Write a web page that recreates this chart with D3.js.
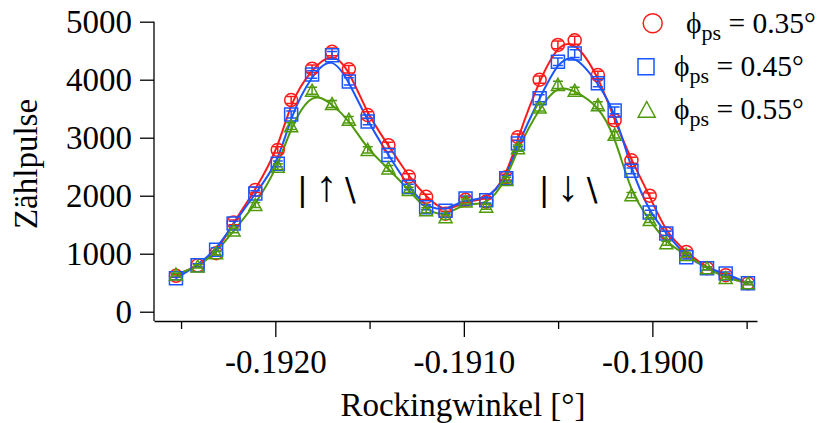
<!DOCTYPE html>
<html>
<head>
<meta charset="utf-8">
<script src="https://cdn.jsdelivr.net/npm/d3@7"></script>
</head>
<body style="margin:0">
<script>
// rocking angle [°] of every measured point
const angles = [
  -0.192527, -0.192412, -0.192314, -0.192221, -0.192106, -0.191987, -0.191916, -0.191805,
  -0.191699, -0.191610, -0.191510, -0.191400, -0.191292, -0.191200, -0.191097, -0.190991,
  -0.190881, -0.190775, -0.190713, -0.190598, -0.190501, -0.190412, -0.190289, -0.190200,
  -0.190111, -0.190014, -0.189926, -0.189820, -0.189710, -0.189611, -0.189493
];

// counts for the three phi_ps settings
const counts035 = [
  620, 800, 1010, 1540, 2100, 2790, 3650, 4190, 4480, 4180, 3390, 2870, 2330, 1980, 1690, 1930,
  1900, 2320, 3010, 4000, 4600, 4680, 4080, 3300, 2610, 2000, 1350, 1030, 750, 630, 490
];
const counts045 = [
  575, 800, 1070, 1520, 2040, 2550, 3400, 4090, 4420, 3970, 3280, 2700, 2150, 1800, 1740, 1950,
  1920, 2300, 2900, 3680, 4310, 4450, 3940, 3470, 2430, 1710, 1350, 940, 750, 660, 490
];
const counts055 = [
  640, 780, 1010, 1400, 1840, 2500, 3200, 3810, 3580, 3310, 2790, 2470, 2100, 1750, 1630, 1900,
  1810, 2270, 2820, 3520, 3910, 3810, 3560, 3050, 2010, 1580, 1180, 980, 750, 580, 490
];

const seriesNames = ["0.35°", "0.45°", "0.55°"];
const seriesColors = ["#ff1a1a", "#1a55ff", "#4f9a0a"];
const seriesShapes = ["circle", "square", "triangle"];

const yTicks = [0, 1000, 2000, 3000, 4000, 5000];
const xMajorTicks = [-0.1920, -0.1910, -0.1900];
const xMinorTicks = [-0.1925, -0.1915, -0.1905, -0.1895];

// spin-state annotations under the two peaks
const annotations = [
  { x: -0.191729, y: 1926, glyphs: ["|", "↑", "\\"] },
  { x: -0.190447, y: 1926, glyphs: ["|", "↓", "\\"] }
];

(function () {
  const width = 817, height = 423;
  const plotLeft = 154, plotRight = 757, plotTop = 21.7, plotBottom = 321;
  const SERIF = "'Liberation Serif', 'Tinos', 'Nimbus Roman', 'Times New Roman'";
  const SANS = "'DejaVu Sans'";

  const svg = d3.select("body").append("svg")
    .attr("width", width)
    .attr("height", height)
    .style("display", "block");

  function serifText(sel, size) {
    return sel
      .attr("font-family", SERIF)
      .style("font-family", SERIF)
      .style("font-size", size + "px")
      .attr("fill", "#000");
  }

  const x = d3.scaleLinear()
    .domain([-0.1926435, -0.189445])
    .range([plotLeft, plotRight]);

  const y = d3.scaleLinear()
    .domain([-160, 5000])
    .range([plotBottom, plotTop]);

  const series = [counts035, counts045, counts055].map((vals, i) => ({
    name: seriesNames[i],
    color: seriesColors[i],
    shape: seriesShapes[i],
    points: vals.map((v, j) => ({ x: angles[j], y: v }))
  }));

  function styleAxis(g) {
    g.attr("font-family", SERIF);
    g.selectAll("line, path").attr("stroke", "#000").attr("stroke-width", 1.3);
    serifText(g.selectAll("text"), 33);
  }

  // axes
  const yAxis = svg.append("g")
    .attr("transform", `translate(${plotLeft},0)`)
    .call(d3.axisLeft(y).tickValues(yTicks).tickSize(14).tickSizeOuter(0).tickPadding(8).tickFormat(d => String(d)))
    .call(styleAxis);
  yAxis.select(".domain").attr("d", `M0,${plotTop}V${plotBottom}`);

  const xAxis = svg.append("g")
    .attr("transform", `translate(0,${plotBottom})`)
    .call(d3.axisBottom(x).tickValues(xMajorTicks).tickSize(16).tickSizeOuter(0).tickFormat(d => d.toFixed(4)))
    .call(styleAxis);
  xAxis.selectAll("text").attr("y", 52).attr("dy", null);

  svg.append("g")
    .attr("transform", `translate(0,${plotBottom})`)
    .call(d3.axisBottom(x).tickValues(xMinorTicks).tickSize(8).tickSizeOuter(0).tickFormat(""))
    .call(styleAxis)
    .select(".domain").remove();

  svg.append("text")
    .attr("transform", "translate(37,164) rotate(-90)")
    .attr("text-anchor", "middle")
    .call(serifText, 33)
    .text("Zählpulse");

  svg.append("text")
    .attr("x", 463)
    .attr("y", 416)
    .attr("text-anchor", "middle")
    .call(serifText, 33)
    .text("Rockingwinkel [°]");

  // fit lines
  const line = d3.line()
    .x(d => x(d.x))
    .y(d => y(d.y))
    .curve(d3.curveBasis);

  svg.append("g")
    .selectAll("path")
    .data(series)
    .join("path")
    .attr("d", d => line(d.points))
    .attr("fill", "none")
    .attr("stroke", d => d.color)
    .attr("stroke-width", 2);

  function markerPath(shape, cx, cy, s) {
    if (shape === "circle") {
      const r = s / 2;
      return `M${cx - r},${cy}a${r},${r} 0 1,0 ${2 * r},0a${r},${r} 0 1,0 ${-2 * r},0Z`;
    }
    const h = s / 2;
    if (shape === "square") {
      return `M${cx - h},${cy - h}h${s}v${s}h${-s}Z`;
    }
    return `M${cx},${cy - h}L${cx + h},${cy + h * 0.85}L${cx - h},${cy + h * 0.85}Z`;
  }

  // markers with counting error bars
  series.forEach(s => {
    const g = svg.append("g")
      .attr("fill", "none")
      .attr("stroke", s.color)
      .attr("stroke-width", 1.5);

    g.selectAll("path.err")
      .data(s.points)
      .join("path")
      .attr("class", "err")
      .attr("d", d => {
        const px = x(d.x);
        const e = Math.sqrt(d.y);
        const y1 = y(d.y + e), y2 = y(d.y - e);
        return `M${px},${y1}V${y2}M${px - 5},${y1}h10M${px - 5},${y2}h10`;
      });

    g.selectAll("path.mark")
      .data(s.points)
      .join("path")
      .attr("class", "mark")
      .attr("d", d => markerPath(s.shape, x(d.x), y(d.y), 13));
  });

  // annotations: bar and backslash in sans, thin arrow from the serif face
  annotations.forEach(a => {
    const cx = x(a.x), by = y(a.y);
    const offsets = [-24, 0, 24];
    a.glyphs.forEach((ch, i) => {
      const t = svg.append("text")
        .attr("x", cx + offsets[i])
        .attr("y", i === 1 ? by + 1 : by)
        .attr("text-anchor", "middle")
        .text(ch);
      if (i === 1) {
        t.call(serifText, 44);
      } else {
        t.attr("font-family", SANS).style("font-family", SANS).style("font-size", "32px");
      }
    });
  });

  // legend
  const legendRows = [
    { mx: 652.7, my: 23.3, tx: 686, ty: 33, size: 19 },
    { mx: 646, my: 66.7, tx: 674, ty: 76, size: 16 },
    { mx: 646.7, my: 110, tx: 674, ty: 119, size: 17 }
  ];

  series.forEach((s, i) => {
    const r = legendRows[i];
    svg.append("path")
      .attr("d", markerPath(s.shape, r.mx, r.my, r.size))
      .attr("fill", "none")
      .attr("stroke", s.color)
      .attr("stroke-width", 1.5);

    const t = svg.append("text")
      .attr("x", r.tx)
      .attr("y", r.ty)
      .call(serifText, 29.5);
    t.append("tspan").text("ϕ");
    t.append("tspan").attr("dy", 7).style("font-size", "22px").text("ps");
    t.append("tspan").attr("dy", -7).text(" = " + s.name);
  });
})();
</script>
</body>
</html>
